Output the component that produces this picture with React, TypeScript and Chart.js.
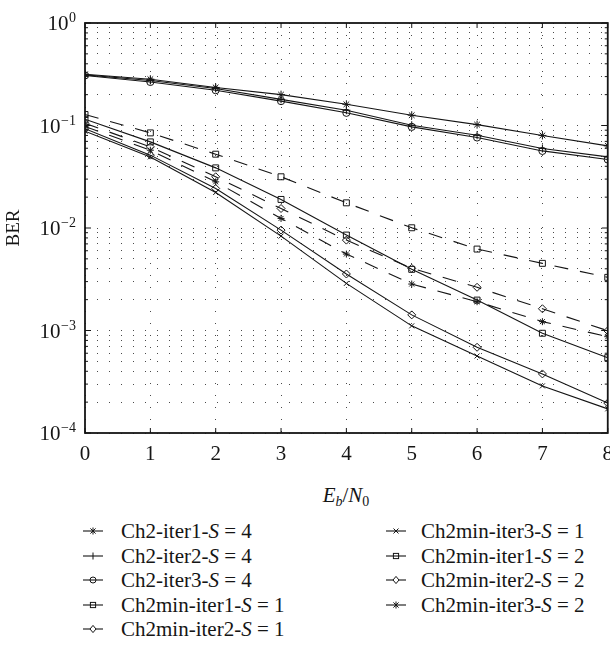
import React, { useEffect, useRef } from "react";
import { Chart, registerables } from "chart.js";

Chart.register(...registerables);

// ---------- data ----------
const ebn0 = [0, 1, 2, 3, 4, 5, 6, 7, 8];

const ch2Iter1S4 = [0.316, 0.283, 0.235, 0.2, 0.161, 0.126, 0.102, 0.08, 0.0633];
const ch2Iter2S4 = [0.312, 0.275, 0.23, 0.18, 0.141, 0.1007, 0.0804, 0.0597, 0.0494];
const ch2Iter3S4 = [0.308, 0.266, 0.221, 0.173, 0.133, 0.097, 0.0764, 0.0565, 0.0466];

const minIter1S1 = [0.115, 0.0692, 0.0386, 0.019, 0.00853, 0.00395, 0.00198, 0.00094, 0.000543];
const minIter2S1 = [0.093, 0.0514, 0.0243, 0.00954, 0.00356, 0.00142, 0.000686, 0.000377, 0.000196];
const minIter3S1 = [0.088, 0.0494, 0.0222, 0.00834, 0.00288, 0.00111, 0.000564, 0.000288, 0.000172];

const minIter1S2 = [0.128, 0.0847, 0.0525, 0.0316, 0.0176, 0.01005, 0.00623, 0.00452, 0.0033];
const minIter2S2 = [0.105, 0.0619, 0.0316, 0.0155, 0.00762, 0.00404, 0.00264, 0.00163, 0.000995];
const minIter3S2 = [0.098, 0.0574, 0.0282, 0.0124, 0.00557, 0.00284, 0.00191, 0.00122, 0.00087];

const xTickValues = [0, 1, 2, 3, 4, 5, 6, 7, 8];
const yDecadeValues = [1, 0.1, 0.01, 0.001, 0.0001];
const yDecadeExponents = ["0", "\u22121", "\u22122", "\u22123", "\u22124"];
const yMin = 1e-4;
const yMax = 1;

type Marker = "star" | "cross" | "circle" | "rect" | "rectRot" | "crossRot";
type Series = { prefix: string; suffix: string; data: number[]; marker: Marker; radius: number; dashed: boolean };

const series: Series[] = [
  { prefix: "Ch2-iter1-", suffix: " = 4", data: ch2Iter1S4, marker: "star", radius: 4, dashed: false },
  { prefix: "Ch2-iter2-", suffix: " = 4", data: ch2Iter2S4, marker: "cross", radius: 4, dashed: false },
  { prefix: "Ch2-iter3-", suffix: " = 4", data: ch2Iter3S4, marker: "circle", radius: 3.6, dashed: false },
  { prefix: "Ch2min-iter1-", suffix: " = 1", data: minIter1S1, marker: "rect", radius: 4.2, dashed: false },
  { prefix: "Ch2min-iter2-", suffix: " = 1", data: minIter2S1, marker: "rectRot", radius: 4, dashed: false },
  { prefix: "Ch2min-iter3-", suffix: " = 1", data: minIter3S1, marker: "crossRot", radius: 3.5, dashed: false },
  { prefix: "Ch2min-iter1-", suffix: " = 2", data: minIter1S2, marker: "rect", radius: 4.2, dashed: true },
  { prefix: "Ch2min-iter2-", suffix: " = 2", data: minIter2S2, marker: "rectRot", radius: 4, dashed: true },
  { prefix: "Ch2min-iter3-", suffix: " = 2", data: minIter3S2, marker: "star", radius: 3.5, dashed: true },
];

const SERIF = '"Liberation Serif", "Times New Roman", serif';
const INK = "#151515";
const GRID = "#4a4a4a";

function logGridValues(): number[] {
  const vals: number[] = [];
  for (let e = -4; e < 0; e++) {
    for (let m = 1; m <= 9; m++) vals.push(m * Math.pow(10, e));
  }
  vals.push(1);
  return vals;
}

const framePlugin = {
  id: "matlabFrame",
  afterDraw(chart: any) {
    const { ctx, chartArea } = chart;
    const { left, right, top, bottom } = chartArea;
    const xs = chart.scales.x;
    const ys = chart.scales.y;
    ctx.save();
    ctx.strokeStyle = INK;
    ctx.setLineDash([]);
    ctx.lineWidth = 1;
    ctx.beginPath();
    for (const v of xTickValues) {
      const px = xs.getPixelForValue(v);
      ctx.moveTo(px, bottom);
      ctx.lineTo(px, bottom - 5);
      ctx.moveTo(px, top);
      ctx.lineTo(px, top + 5);
    }
    for (const v of logGridValues()) {
      const py = ys.getPixelForValue(v);
      const major = Math.abs(Math.log10(v) - Math.round(Math.log10(v))) < 1e-9;
      const len = major ? 6 : 3;
      ctx.moveTo(left, py);
      ctx.lineTo(left + len, py);
      ctx.moveTo(right, py);
      ctx.lineTo(right - len, py);
    }
    ctx.stroke();
    ctx.lineWidth = 1.8;
    ctx.strokeRect(left, top, right - left, bottom - top);

    // y tick labels: 10 with superscript exponent
    ctx.fillStyle = INK;
    ctx.textBaseline = "alphabetic";
    ctx.textAlign = "left";
    yDecadeValues.forEach((v, i) => {
      const py = ys.getPixelForValue(v);
      const exp = yDecadeExponents[i];
      ctx.font = "14px " + SERIF;
      const wExp = ctx.measureText(exp).width;
      ctx.font = "21px " + SERIF;
      const wBase = ctx.measureText("10").width;
      const expX = 76 - wExp;
      const baseX = expX - wBase - 0.5;
      ctx.fillText("10", baseX, py + 7);
      ctx.font = "14px " + SERIF;
      ctx.fillText(exp, expX, py - 1);
    });
    ctx.restore();
  },
};

function MarkerIcon({ marker }: { marker: Marker }) {
  const cx = 10;
  const cy = 7;
  const r = 3;
  let shape: React.ReactNode = null;
  const sw = 1;
  if (marker === "circle") shape = <circle cx={cx} cy={cy} r={r} fill="none" stroke={INK} strokeWidth={sw} />;
  else if (marker === "rect") shape = <rect x={cx - 2.6} y={cy - 2.6} width={5.2} height={5.2} fill="none" stroke={INK} strokeWidth={sw} />;
  else if (marker === "rectRot")
    shape = (
      <polygon points={`${cx},${cy - 3.6} ${cx + 3},${cy} ${cx},${cy + 3.6} ${cx - 3},${cy}`} fill="white" stroke={INK} strokeWidth={sw} />
    );
  else if (marker === "cross")
    shape = <path d={`M${cx} ${cy - 3.5}V${cy + 3.5}`} stroke={INK} strokeWidth={sw} />;
  else if (marker === "crossRot")
    shape = <path d={`M${cx - 2.5} ${cy - 2.5}L${cx + 2.5} ${cy + 2.5}M${cx - 2.5} ${cy + 2.5}L${cx + 2.5} ${cy - 2.5}`} stroke={INK} strokeWidth={sw} />;
  else if (marker === "star")
    shape = (
      <path
        d={`M${cx} ${cy - 3.5}V${cy + 3.5}M${cx - 2.6} ${cy - 2.6}L${cx + 2.6} ${cy + 2.6}M${cx - 2.6} ${cy + 2.6}L${cx + 2.6} ${cy - 2.6}`}
        stroke={INK}
        strokeWidth={sw}
      />
    );
  return (
    <svg width={20} height={14} style={{ display: "block" }}>
      <line x1={0} y1={cy} x2={20} y2={cy} stroke={INK} strokeWidth={1.1} />
      {shape}
    </svg>
  );
}

export default function App() {
  const canvasRef = useRef<HTMLCanvasElement | null>(null);

  useEffect(() => {
    const canvas = canvasRef.current;
    if (!canvas) return;
    const chart = new Chart(canvas, {
      type: "line",
      data: {
        datasets: series.map((s) => ({
          label: s.prefix + "S" + s.suffix,
          data: ebn0.map((x, i) => ({ x, y: s.data[i] })),
          borderColor: INK,
          borderWidth: 1.1,
          borderDash: s.dashed ? [14, 12] : [],
          backgroundColor: "rgba(0,0,0,0)",
          pointStyle: s.marker,
          pointRadius: s.radius,
          pointBorderWidth: 1,
          pointBorderColor: INK,
          pointBackgroundColor: "rgba(0,0,0,0)",
          fill: false,
          tension: 0,
        })),
      },
      options: {
        animation: false,
        responsive: false,
        devicePixelRatio: 1,
        layout: { padding: { left: 0, right: 8, top: 23, bottom: 0 } },
        plugins: { legend: { display: false }, tooltip: { enabled: false }, title: { display: false } },
        scales: {
          x: {
            type: "linear",
            min: 0,
            max: 8,
            afterBuildTicks: (scale: any) => {
              scale.ticks = xTickValues.map((v) => ({ value: v }));
            },
            ticks: {
              font: { family: SERIF, size: 21 },
              color: INK,
              padding: 9,
              maxRotation: 0,
              autoSkip: false,
            },
            grid: { color: GRID, lineWidth: 1, drawTicks: false },
            border: { display: false, dash: [1, 11] },
            afterFit: (scale: any) => {
              scale.height = 30;
            },
          },
          y: {
            type: "logarithmic",
            min: yMin,
            max: yMax,
            afterBuildTicks: (scale: any) => {
              scale.ticks = logGridValues().map((v) => ({ value: v }));
            },
            ticks: { display: false },
            grid: { color: GRID, lineWidth: 1, drawTicks: false },
            border: { display: false, dash: [1, 11] },
            title: {
              display: true,
              text: "BER",
              font: { family: SERIF, size: 19 },
              color: INK,
              padding: { top: 3, bottom: 0 },
            },
            afterFit: (scale: any) => {
              scale.width = 85;
            },
          },
        },
      },
      plugins: [framePlugin],
    } as any);
    return () => chart.destroy();
  }, []);

  const rowTop = 531;
  const rowStep = 24.5;
  const col1 = series.slice(0, 5);
  const col2 = series.slice(5);

  const renderItem = (s: Series, idx: number, iconLeft: number, textLeft: number) => {
    const cy = rowTop + idx * rowStep;
    return (
      <React.Fragment key={s.prefix + s.suffix + iconLeft}>
        <div style={{ position: "absolute", left: iconLeft, top: cy - 7 }}>
          <MarkerIcon marker={s.marker} />
        </div>
        <div
          style={{
            position: "absolute",
            left: textLeft,
            top: cy - 13,
            height: 26,
            lineHeight: "26px",
            fontFamily: SERIF,
            fontSize: 21,
            color: INK,
            whiteSpace: "nowrap",
          }}
        >
          {s.prefix}
          <i>S</i>
          {s.suffix}
        </div>
      </React.Fragment>
    );
  };

  return (
    <div style={{ position: "absolute", left: 0, top: 0, width: 610, height: 645, background: "#fff", overflow: "hidden" }}>
      <canvas ref={canvasRef} width={622} height={463} style={{ position: "absolute", left: 0, top: 0, width: 622, height: 463 }} />
      <div
        style={{
          position: "absolute",
          left: 246,
          width: 200,
          top: 482,
          textAlign: "center",
          fontFamily: SERIF,
          fontSize: 21,
          lineHeight: "26px",
          color: INK,
        }}
      >
        <i>E</i>
        <sub style={{ fontSize: 14, verticalAlign: "-4px", lineHeight: 0 }}>
          <i>b</i>
        </sub>
        /<i>N</i>
        <sub style={{ fontSize: 14, verticalAlign: "-4px", lineHeight: 0 }}>0</sub>
      </div>
      {col1.map((s, i) => renderItem(s, i, 83, 121))}
      {col2.map((s, i) => renderItem(s, i, 386, 421))}
    </div>
  );
}
